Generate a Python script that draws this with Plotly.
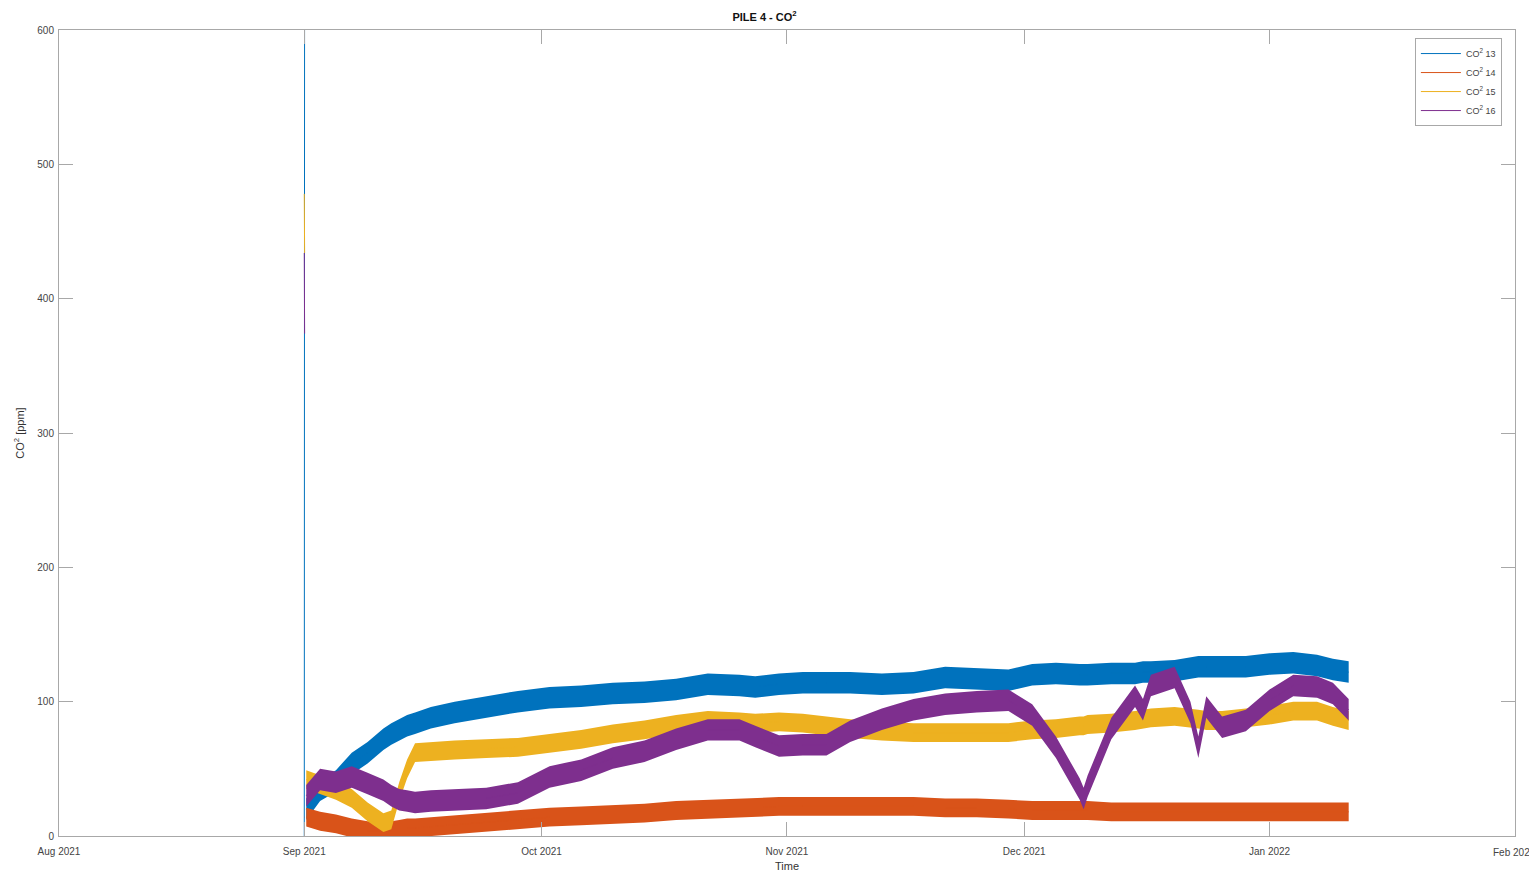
import plotly.graph_objects as go

# Sensor start-up burst (first hours of logging)
start_times = ["2021-09-01 00:00", "2021-09-01 01:00", "2021-09-01 02:00"]
start_13 = [0, 700, None]
start_14 = [14, 14, None]
start_15 = [478, 434, None]
start_16 = [434, 374, None]

# Regular logging: smoothed level of each sensor [ppm]
sample_dates = [
    "2021-09-01 06:00", "2021-09-03", "2021-09-05", "2021-09-07", "2021-09-09",
    "2021-09-11", "2021-09-12", "2021-09-13", "2021-09-14", "2021-09-15",
    "2021-09-17", "2021-09-20", "2021-09-24", "2021-09-28", "2021-10-02",
    "2021-10-06", "2021-10-10", "2021-10-14", "2021-10-18", "2021-10-22",
    "2021-10-26", "2021-10-28", "2021-10-31", "2021-11-03", "2021-11-06",
    "2021-11-09", "2021-11-13", "2021-11-17", "2021-11-21", "2021-11-25",
    "2021-11-29", "2021-12-02", "2021-12-05", "2021-12-08", "2021-12-08 12:00",
    "2021-12-09", "2021-12-12", "2021-12-15", "2021-12-16", "2021-12-17",
    "2021-12-20", "2021-12-22", "2021-12-23", "2021-12-24", "2021-12-26",
    "2021-12-29", "2022-01-01", "2022-01-04", "2022-01-07", "2022-01-09",
    "2022-01-11",
]
co2_13 = [20, 34, 41, 54, 62, 72, 76, 79, 82, 84,
          88, 92, 96, 100, 103, 104, 106, 107, 109, 113,
          112, 111, 113, 114, 114, 114, 113, 114, 118, 117,
          116, 120, 121, 120, 120, 120, 121, 121, 122, 122,
          123, 125, 126, 126, 126, 126, 128, 129, 127, 124,
          122]
co2_14 = [14, 11, 9, 6, 4, 4, 4, 5, 6, 6,
          7, 8, 10, 12, 14, 15, 16, 17, 19, 20,
          21, 21, 22, 22, 22, 22, 22, 22, 21, 21,
          20, 19, 19, 19, 19, 19, 18, 18, 18, 18,
          18, 18, 18, 18, 18, 18, 18, 18, 18, 18,
          18]
co2_15 = [42, 38, 34, 28, 18, 10, 12, 33, 50, 62,
          63, 64, 65, 66, 69, 72, 76, 79, 83, 86,
          85, 84, 85, 84, 82, 80, 78, 77, 77, 77,
          77, 79, 80, 82, 82, 83, 84, 86, 87, 88,
          89, 88, 87, 86, 86, 88, 90, 93, 93, 89,
          86]
co2_16 = [30, 42, 40, 44, 39, 34, 30, 27, 26, 25,
          26, 27, 28, 32, 44, 49, 58, 63, 72, 79,
          79, 74, 67, 68, 68, 78, 87, 94, 98, 100,
          101, 90, 66, 35, 28, 37, 80, 104, 94, 112,
          118, 92, 66, 96, 81, 86, 101, 112, 111, 106,
          94]

# Typical half-spread of the sensor noise around each level [ppm]
noise_13, noise_14, noise_15, noise_16 = 8, 7, 7, 8

# Month ticks of the time axis
month_ticks = ["2021-08-01", "2021-09-01", "2021-10-01", "2021-11-01",
               "2021-12-01", "2022-01-01", "2022-02-01"]
month_labels = ["Aug 2021", "Sep 2021", "Oct 2021", "Nov 2021",
                "Dec 2021", "Jan 2022", "Feb 2022"]

series = [
    ("CO<sup>2</sup> 13", start_13, co2_13, noise_13, "#0072BD"),
    ("CO<sup>2</sup> 14", start_14, co2_14, noise_14, "#D95319"),
    ("CO<sup>2</sup> 15", start_15, co2_15, noise_15, "#EDB120"),
    ("CO<sup>2</sup> 16", start_16, co2_16, noise_16, "#7E2F8E"),
]

fig = go.Figure()
for name, start, level, noise, color in series:
    lower = [v - noise for v in level]
    upper = [v + noise for v in level]
    fig.add_trace(go.Scatter(
        x=sample_dates, y=lower, mode="lines", line=dict(width=0, color=color),
        showlegend=False, hoverinfo="skip", legendgroup=name))
    fig.add_trace(go.Scatter(
        x=sample_dates, y=upper, mode="lines", line=dict(width=0, color=color),
        fill="tonexty", fillcolor=color, showlegend=False, hoverinfo="skip",
        legendgroup=name))
    fig.add_trace(go.Scatter(
        x=start_times + sample_dates, y=start + level, mode="lines",
        line=dict(width=1, color=color), name=name, legendgroup=name,
        connectgaps=False))

tick_font = dict(family="Liberation Sans", size=10, color="#444")
axis_style = dict(
    showline=True, linecolor="#a8a8a8", linewidth=1, mirror="allticks",
    ticks="inside", ticklen=14, tickcolor="#a8a8a8", showgrid=False,
    zeroline=False, automargin=False, tickfont=tick_font,
)

# The last month label sits on the right edge of the page; plotly drops
# labels that overflow, so it is placed as an annotation instead.
fig.add_annotation(
    x=month_ticks[-1], y=0, xref="x", yref="paper", yanchor="top",
    yshift=-9, text=month_labels[-1], showarrow=False, font=tick_font)

fig.update_layout(
    width=1529, height=872,
    margin=dict(l=59, r=14, t=30, b=36),
    paper_bgcolor="white", plot_bgcolor="white",
    title=dict(text="<b>PILE 4 - CO<sup>2</sup></b>", x=0.5, xanchor="center",
               y=1 - 17 / 872, yanchor="middle",
               font=dict(family="Liberation Sans", size=11, color="#111")),
    xaxis=dict(
        range=["2021-08-01", "2022-02-01 00:30"],
        tickvals=month_ticks[:-1], ticktext=month_labels[:-1],
        ticklabelstandoff=6,
        title=dict(text="Time", standoff=6,
                   font=dict(family="Liberation Sans", size=11, color="#333")),
        **axis_style),
    yaxis=dict(
        range=[0, 600], tick0=0, dtick=100, ticklabelstandoff=2,
        title=dict(text="CO<sup>2</sup> [ppm]", standoff=10,
                   font=dict(family="Liberation Sans", size=11, color="#333")),
        **axis_style),
    legend=dict(
        x=0.991, y=0.99, xanchor="right", yanchor="top",
        bgcolor="white", bordercolor="#a8a8a8", borderwidth=1,
        font=dict(family="Liberation Sans", size=9, color="#444"),
        itemwidth=40, tracegroupgap=0,
    ),
    showlegend=True,
)

fig.write_html("out.html")
